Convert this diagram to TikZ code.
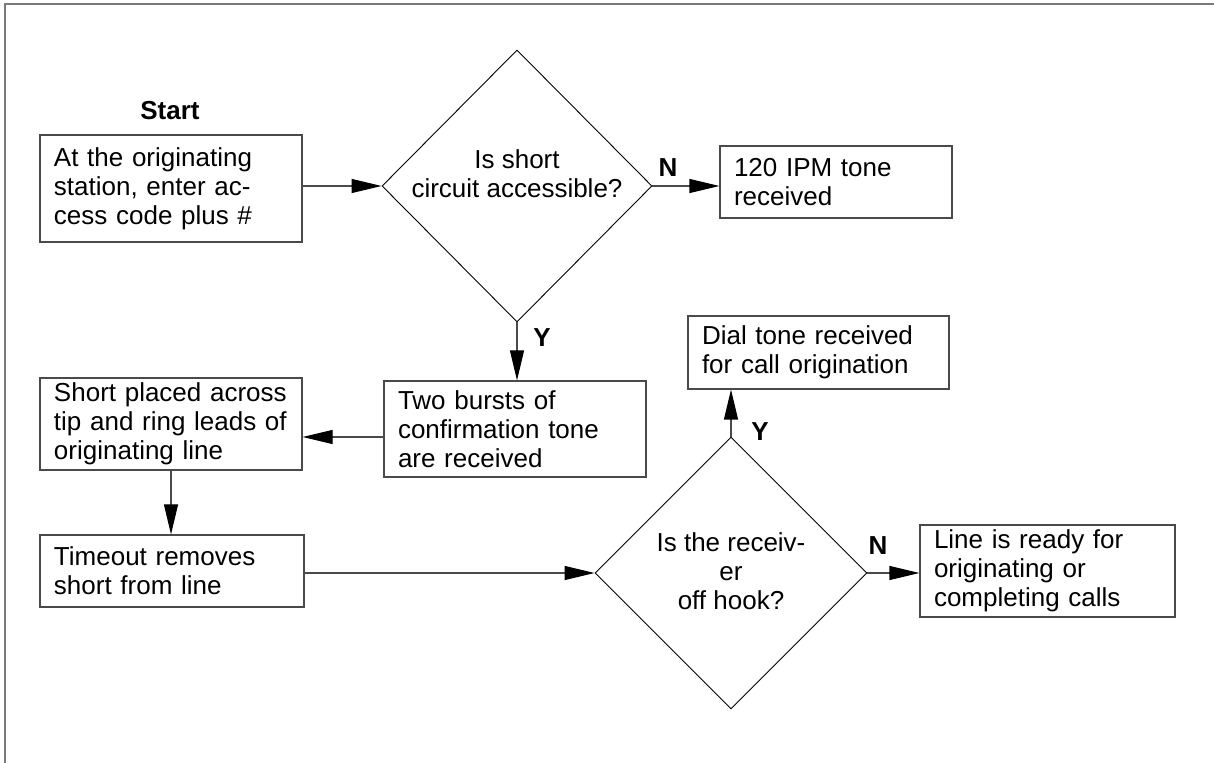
\documentclass[tikz,border=0pt]{standalone}
\usepackage{fontspec}
\setmainfont{Liberation Sans}
\usepackage{tikz}
\usetikzlibrary{
  arrows.meta,
  positioning,
  shapes.geometric,
}
\definecolor{edgegray}{HTML}{4A4A4A}
\definecolor{framegray}{HTML}{7A7A7A}

\begin{document}
\begin{tikzpicture}[x=0.5pt, y=-0.5pt,
  font=\fontsize{13}{14.5}\selectfont,
  box/.style={draw=edgegray, line width=0.6pt, rectangle, align=left, inner xsep=7pt, inner ysep=0pt},
  decision/.style={draw=black, line width=0.45pt, diamond, shape aspect=1, inner sep=0pt},
  flow/.style={-{Triangle[length=15pt, width=7pt, color=black]}, draw=edgegray, line width=0.6pt},
  yn/.style={font=\fontsize{13}{14.5}\selectfont\bfseries},
]
  \useasboundingbox (0,0) rectangle (1214,763);
  \draw[framegray, line width=1.3pt] (5,763) -- (5,4) -- (1214,4);

  % first row
  \node[yn] (start) at (170,111) {Start};
  \node[box, text width=117pt, minimum height=53.5pt] (b1) at (171,188.5)
    {At the originating\\station, enter ac-\\cess code plus \#};
  \node[decision, minimum width=135pt, minimum height=136pt] (q1) at (517,186) {};
  \node[align=center] (q1txt) at (517,174) {Is short\\circuit accessible?};
  \node[box, text width=102pt, minimum height=36pt] (n1) at (836,182)
    {120 IPM tone\\received};

  % second row
  \node[box, text width=117pt, minimum height=48pt] (b2) at (515,429)
    {Two bursts of\\confirmation tone\\are received};
  \node[box, text width=117pt, minimum height=46pt] (b3) at (171,424)
    {Short placed across\\tip and ring leads of\\originating line};
  \node[box, text width=116.5pt, minimum height=36.5pt] (d1) at (818.5,352.5)
    {Dial tone received\\for call origination};

  % third row
  \node[box, text width=118pt, minimum height=36pt] (b4) at (172,571)
    {Timeout removes\\short from line};
  \node[decision, minimum width=136pt, minimum height=136pt] (q2) at (731,573) {};
  \node[align=center] (q2txt) at (731,571) {Is the receiv-\\er\\off hook?};
  \node[box, text width=113.5pt, minimum height=46pt] (l1) at (1047.5,571)
    {Line is ready for\\originating or\\completing calls};

  % connectors
  \draw[flow] (q1.west -| b1.east) -- (q1.west);
  \draw[flow] (q1.east) -- (q1.east -| n1.west);
  \node[yn] (n1lbl) at (668,168) {N};
  \draw[flow] (q1.south) -- (q1.south |- b2.north);
  \node[yn] (y1lbl) at (542,338) {Y};
  \draw[flow] ([yshift=-4pt]b2.west) -- ([yshift=-4pt]b2.west -| b3.east);
  \draw[flow] (b3.south) -- (b3.south |- b4.north);
  \draw[flow] (q2.west -| b4.east) -- (q2.west);
  \draw[flow] (q2.north) -- (q2.north |- d1.south);
  \node[yn] (y2lbl) at (760,432) {Y};
  \draw[flow] (q2.east) -- (q2.east -| l1.west);
  \node[yn] (n2lbl) at (878,546) {N};
\end{tikzpicture}
\end{document}
